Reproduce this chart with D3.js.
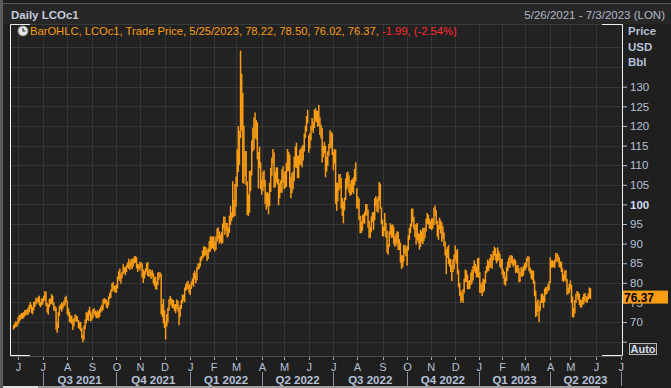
<!DOCTYPE html>
<html>
<head>
<meta charset="utf-8">
<script src="https://cdn.jsdelivr.net/npm/d3@7"></script>
<style>
  body { margin: 0; background: #1f1f1f; }
  svg { display: block; font-family: 'Liberation Sans', Arial, sans-serif; }
</style>
</head>
<body>
<svg width="671" height="388"></svg>
<script>
// daily [low, high] of LCOc1, one entry per trading day
const bars2021 = [
  [68.2,69.1],[68.6,69.6],[68.9,70.1],[69.0,69.9],
  [69.5,71.1],[70.0,71.6],[70.6,71.8],[71.0,72.2],[70.9,72.2],[71.2,72.4],[71.6,72.9],[71.9,73.0],[72.0,73.1],[72.0,73.6],[72.6,74.3],[73.6,75.0],[72.4,74.3],[72.1,73.7],[73.1,75.0],[74.0,75.2],[74.6,76.1],[74.9,75.9],[75.2,76.3],[74.4,76.6],[73.9,75.0],[74.4,75.8],
  [74.6,76.0],[75.4,76.6],[75.7,77.8],[74.2,77.6],[72.6,74.8],[72.0,74.4],[73.9,75.8],[74.6,75.9],[74.8,77.0],[74.5,76.6],[73.1,74.8],[72.9,74.0],[68.2,73.6],[67.4,69.8],[68.6,72.4],[71.7,74.0],[73.4,74.4],[72.8,74.9],[73.5,74.7],[74.1,75.3],[74.4,76.2],[75.2,76.6],
  [72.1,75.3],[71.6,73.4],[70.0,72.5],[70.1,71.6],[69.6,71.5],[68.1,70.6],[69.0,70.9],[70.3,71.9],[70.4,71.6],[70.1,71.3],[68.6,70.4],[68.3,69.9],[67.8,69.9],[66.0,68.4],[65.0,66.6],[65.6,69.0],[68.3,70.5],[69.8,72.4],[70.6,72.3],[70.4,72.9],[71.8,73.8],[70.3,72.6],
  [70.6,71.9],[71.2,73.2],[72.2,73.4],[71.6,72.8],[71.1,72.5],[71.2,72.9],[71.1,72.6],[71.5,73.2],[72.6,73.8],[72.9,74.3],[73.2,75.6],[74.7,76.0],[74.9,75.8],[73.9,75.6],[73.6,75.1],[74.4,76.4],[76.0,77.4],[76.3,78.2],[77.8,79.8],[78.3,80.1],[77.9,79.2],[77.6,79.1],
  [77.6,79.5],[78.7,81.5],[81.0,82.8],[80.6,83.5],[79.9,82.2],[81.3,82.7],[82.3,84.6],[82.7,83.9],[82.1,83.9],[82.9,84.4],[84.0,85.1],[83.7,86.0],[83.4,85.2],[84.1,85.9],[83.6,86.1],[84.3,86.0],[85.1,86.6],[85.3,86.7],[83.8,86.4],[82.9,84.7],[83.7,84.6],
  [83.3,85.2],[84.1,85.1],[81.5,84.8],[80.1,83.3],[81.2,82.9],[82.2,83.6],[83.0,84.9],[81.9,85.2],[81.6,83.0],[81.9,83.4],[81.1,82.8],[81.6,83.2],[79.9,82.4],[79.3,81.3],[78.5,81.5],[78.4,80.2],[79.5,82.5],[81.0,82.6],[81.6,82.6],[72.1,82.2],[71.5,74.5],[69.8,75.8],
  [68.6,72.9],[65.7,70.0],[69.0,71.9],[70.0,73.5],[73.0,75.7],[74.8,76.5],[74.2,76.0],[73.7,75.6],[73.6,75.5],[72.9,74.4],[72.4,74.5],[73.5,75.6],[72.8,75.3],[69.3,73.6],[71.4,74.2],[73.5,75.5],[74.9,76.9],[75.6,76.8],[75.2,78.7],[78.1,79.5],[78.4,80.1],[78.5,80.4],[77.5,79.6]
];
const bars2022 = [
  [77.0,79.2],[78.6,80.2],[79.6,81.0],[79.1,82.4],[81.0,83.0],[80.0,82.3],[80.8,83.9],[83.4,84.8],[83.7,85.0],[84.3,86.4],[85.7,86.7],[86.3,88.1],[86.7,89.2],[87.1,89.1],[87.1,89.0],[85.7,88.3],[86.2,88.6],[87.9,90.5],[88.1,91.7],[88.8,91.7],[89.0,91.7],
  [88.6,91.7],[88.1,90.4],[88.5,91.7],[90.6,93.7],[91.3,94.0],[90.1,93.0],[90.5,92.2],[90.0,92.8],[90.3,95.0],[94.0,96.8],[92.4,96.7],[93.3,95.2],[91.7,95.1],[92.0,93.8],[92.9,97.0],[94.9,99.5],[95.9,97.8],[96.7,105.8],[97.0,101.0],[97.2,105.1],
  [99.5,107.0],[104.6,113.9],[108.4,119.8],[110.2,118.6],[117.0,139.1],[119.0,133.2],[105.6,128.3],[105.4,119.9],[107.3,113.4],[105.0,113.5],[97.4,105.7],[97.2,102.4],[98.0,108.4],[103.5,108.5],[107.5,116.2],[113.6,119.5],[114.1,122.0],[117.0,123.3],[116.7,121.4],[111.6,120.8],[104.2,113.2],[109.4,114.6],[104.0,110.6],
  [102.6,106.2],[103.5,108.1],[104.6,108.6],[100.2,106.1],[98.8,102.9],[99.6,103.0],[97.6,102.6],[99.7,105.4],[103.3,109.2],[107.4,111.8],[110.5,114.0],[104.3,113.1],[104.5,108.2],[105.8,109.3],[105.2,109.3],[99.9,106.4],[101.7,105.2],[103.1,106.0],[103.1,108.8],[105.6,109.6],
  [104.0,108.0],[104.3,108.4],[104.6,110.5],[108.5,114.0],[108.6,113.3],[104.4,112.6],[101.7,106.8],[103.0,107.9],[104.0,108.3],[106.0,112.1],[109.6,114.6],[109.4,115.6],[106.8,112.3],[106.8,112.3],[110.1,113.8],[110.2,114.1],[109.6,114.7],[111.3,115.1],[113.6,117.9],[117.1,119.9],[118.7,122.4],[120.8,124.0],
  [113.3,117.5],[114.4,118.1],[116.5,119.9],[119.0,121.9],[118.3,121.0],[119.6,124.0],[121.3,124.4],[121.0,123.8],[119.9,123.7],[120.1,125.2],[117.8,122.1],[116.9,120.2],[110.8,119.4],[112.1,114.8],[113.1,115.8],[107.0,114.8],[108.5,112.0],[110.0,113.4],[112.5,115.3],[114.4,118.8],[114.7,118.4],[112.7,118.0],
  [108.8,113.3],[110.5,114.0],[100.3,113.8],[98.5,105.4],[100.9,105.3],[103.7,107.6],[104.3,107.6],[99.1,106.6],[97.2,101.5],[95.3,100.6],[98.6,101.6],[101.2,106.5],[103.9,108.0],[104.6,108.2],[103.1,107.3],[102.3,105.0],[102.6,106.0],[103.3,106.3],[102.8,106.8],[105.0,108.9],[106.0,110.6],
  [99.1,104.0],[99.1,101.9],[96.2,101.3],[92.8,97.0],[92.8,95.5],[93.4,97.1],[95.3,97.4],[95.2,98.0],[97.3,100.0],[97.3,99.9],[94.2,98.6],[91.5,95.7],[91.6,94.2],[93.0,96.8],[95.6,97.9],[93.6,97.9],[96.1,101.5],[99.6,102.0],[98.3,101.2],[98.0,101.8],[101.0,105.6],[99.0,105.2],[95.1,99.1],
  [92.0,96.0],[92.0,94.2],[93.4,97.7],[91.7,95.2],[87.8,93.2],[87.3,89.8],[89.3,93.0],[92.4,95.1],[91.6,94.6],[91.7,94.8],[90.0,94.2],[89.3,91.7],[89.6,92.4],[90.2,93.0],[88.5,92.9],[88.5,91.0],[85.3,90.1],[83.7,86.9],[84.1,86.9],[85.5,89.5],[87.6,89.5],[86.9,88.8],
  [84.5,89.3],[88.4,92.0],[91.1,93.9],[92.8,95.0],[94.4,98.8],[95.7,98.8],[93.8,96.7],[91.8,94.6],[89.9,94.9],[91.0,95.1],[90.3,92.5],[88.6,92.4],[89.3,93.4],[90.5,93.0],[90.0,93.9],[90.8,93.8],[91.6,94.0],[93.2,96.3],[95.1,97.7],[95.0,97.2],[93.9,96.2],
  [93.9,95.6],[93.6,96.3],[94.0,96.4],[94.9,99.0],[97.2,99.6],[95.0,98.4],[91.9,95.7],[91.1,94.6],[93.8,96.5],[92.7,95.8],[90.6,95.3],[91.3,94.3],[89.4,92.7],[87.1,90.4],[82.3,88.4],[86.5,89.0],[84.9,89.5],[84.3,86.1],[82.9,85.9],[80.6,84.4],[82.8,85.8],[83.6,87.1],
  [85.9,89.4],[85.0,88.1],[82.3,88.5],[79.0,83.2],[76.8,79.9],[75.1,77.9],[75.6,77.4],[75.0,78.3],[77.5,81.0],[80.3,83.3],[80.4,83.0],[78.5,82.0],[78.5,80.3],[78.6,80.6],[79.6,82.5],[80.0,83.3],[80.8,84.2],[83.1,85.6],[82.6,84.7],[81.5,84.1],[81.6,86.1]
];
const bars2023 = [
  [81.4,86.3],[77.6,82.6],[77.6,79.6],[76.8,80.0],[77.6,81.0],[78.0,80.7],[80.0,82.9],[82.6,84.2],[83.0,85.8],[83.2,85.4],[83.9,86.2],[84.2,87.2],[83.7,86.9],[85.8,88.0],[87.0,89.1],[85.9,88.7],[85.1,87.3],[85.7,88.9],[85.9,88.0],[84.2,87.3],[83.8,85.9],
  [82.2,86.0],[81.3,83.3],[79.7,82.7],[79.4,81.3],[80.6,83.9],[83.1,85.3],[84.0,86.3],[84.0,86.9],[85.2,86.9],[84.8,86.8],[84.2,85.8],[84.7,86.1],[82.6,85.6],[82.8,84.3],[82.6,84.4],[80.3,83.6],[80.4,82.6],[81.9,83.9],[81.6,83.5],[82.0,84.2],
  [83.2,84.9],[83.5,85.2],[84.1,86.2],[85.6,86.7],[83.1,86.5],[82.5,83.8],[81.2,83.2],[80.8,83.0],[79.9,83.0],[76.7,80.4],[71.4,77.9],[71.7,75.1],[72.7,75.6],[70.1,74.1],[73.0,75.4],[75.0,77.0],[75.0,77.2],[73.8,76.6],[75.2,78.4],[77.1,78.8],[77.3,78.8],[77.9,79.5],[78.3,80.2],
  [80.1,86.4],[84.0,85.6],[84.0,85.6],[84.3,85.4],[83.9,85.8],[85.4,87.5],[85.8,87.5],[85.3,87.0],[84.2,86.4],[83.9,85.3],[82.9,85.3],[80.6,83.6],[80.4,82.0],[80.9,83.0],[80.5,83.1],[77.1,80.9],[77.2,78.6],[77.6,79.6],
  [78.5,80.5],[75.0,79.4],[71.4,76.4],[71.3,73.5],[72.3,75.5],[75.0,77.1],[76.6,77.8],[75.7,77.5],[74.5,77.1],[73.9,75.6],[73.8,75.5],[74.6,76.3],[74.6,77.1],[75.5,77.3],[75.2,76.6],[75.0,76.3],[75.8,77.2],[76.2,78.7],[76.02,78.5]
];

// months shown on the axis, May 2021 .. Jul 2023, with their trading-day counts
const monthLetters = ['M','J','J','A','S','O','N','D','J','F','M','A','M','J','J','A','S','O','N','D','J','F','M','A','M','J','J'];
const monthTradingDays = [4,22,22,22,22,21,22,23,21,20,23,20,22,22,21,23,22,21,22,21,21,20,23,18,23,22,1];
const quarterLabels = ['Q3 2021','Q4 2021','Q1 2022','Q2 2022','Q3 2022','Q4 2022','Q1 2023','Q2 2023'];
const yTickValues = [65,70,75,80,85,90,95,100,105,110,115,120,125,130];
const yLabelValues = [70,75,80,85,90,95,100,105,110,115,120,125,130];
const yGridValues = [65,70,75,80,85,90,95,100,105,110,115,120,125,130,135,140];
const lastClose = 76.37;
const legendMain = 'BarOHLC, LCOc1, Trade Price, 5/25/2023, 78.22, 78.50, 76.02, 76.37, ';
const legendChange = '-1.99, (-2.54%)';

const orange = '#f89c14';
const axisText = '#b4c0d6';

const bars = bars2021.concat(bars2022, bars2023);
let acc = 0;
const monthStarts = monthTradingDays.map(n => { const s = acc; acc += n; return s; });

const plot = { left: 10, right: 622, top: 24, bottom: 356 };
const svg = d3.select('svg');

const x = d3.scaleLinear().domain([0, 544]).range([13.6, 621.8]);
const y = d3.scaleLinear().domain([65, 130]).range([341.7, 86.7]);

// backgrounds
svg.append('rect').attr('width', 671).attr('height', 388).attr('fill', '#1f1f1f');
svg.append('rect').attr('x', 3).attr('y', 4).attr('width', 668).attr('height', 20).attr('fill', '#272727');
svg.append('rect').attr('x', plot.left).attr('y', plot.top)
   .attr('width', plot.right - plot.left).attr('height', plot.bottom - plot.top)
   .attr('fill', '#222222');
svg.append('rect').attr('x', 0).attr('y', 0).attr('width', 3).attr('height', 388).attr('fill', '#5c5c5c');
svg.append('line').attr('x1', 3).attr('x2', 671).attr('y1', 3.5).attr('y2', 3.5).attr('stroke', '#555');

// grid
const grid = svg.append('g').attr('stroke', '#363636').attr('stroke-width', 1);
grid.selectAll('.hg').data(yGridValues).join('line')
    .attr('x1', plot.left).attr('x2', plot.right)
    .attr('y1', d => Math.round(y(d)) + 0.5).attr('y2', d => Math.round(y(d)) + 0.5);
grid.selectAll('.vg').data(monthStarts.slice(1, 26)).join('line')
    .attr('x1', d => Math.round(x(d)) + 0.5).attr('x2', d => Math.round(x(d)) + 0.5)
    .attr('y1', plot.top).attr('y2', plot.bottom);

// price bars
svg.append('g').selectAll('line').data(bars).join('line')
   .attr('x1', (d, i) => x(i)).attr('x2', (d, i) => x(i))
   .attr('y1', d => y(d[0]) + 0.5).attr('y2', d => y(d[1]) - 0.5)
   .attr('stroke', orange).attr('stroke-width', 1.5);

// frame
svg.append('line').attr('x1', plot.left).attr('x2', plot.right).attr('y1', plot.bottom + 0.5).attr('y2', plot.bottom + 0.5).attr('stroke', '#4e4e4e');
svg.append('line').attr('x1', plot.left).attr('x2', plot.right).attr('y1', plot.top + 0.5).attr('y2', plot.top + 0.5).attr('stroke', '#3a3a3a');
const frame = svg.append('g').attr('stroke', '#f0f0f0').attr('stroke-width', 1).attr('fill', 'none');
frame.append('path').attr('d', `M${plot.left + 20},${plot.top + 0.5}H${plot.left + 0.5}V${plot.bottom - 0.5}H${plot.left + 20}`);
frame.append('path').attr('d', `M${plot.right - 20},${plot.top + 0.5}H${plot.right + 0.5}V${plot.bottom - 0.5}H${plot.right - 20}`);

// right axis
const yAxis = d3.axisRight(y).tickValues(yTickValues).tickSize(4).tickPadding(3)
                .tickFormat(d => yLabelValues.includes(d) ? d : '');
const yAxisG = svg.append('g').attr('transform', `translate(${plot.right + 1},0)`).call(yAxis);
yAxisG.select('.domain').remove();
yAxisG.selectAll('line').attr('stroke', axisText);
yAxisG.selectAll('text').attr('font-size', 11.5)
      .attr('font-weight', d => d === 100 ? 'bold' : 'normal')
      .attr('fill', d => d === 100 ? '#d0dcf0' : axisText);

svg.append('g').attr('fill', axisText).attr('font-weight', 'bold').attr('font-size', 11.5)
   .selectAll('text').data(['Price', 'USD', 'Bbl']).join('text')
   .attr('x', 628).attr('y', (d, i) => 35 + i * 15.5).text(d => d);

// last price tag
svg.append('rect').attr('x', plot.right + 1).attr('y', y(lastClose) - 6.5).attr('width', 45).attr('height', 13).attr('fill', orange);
svg.append('text').attr('x', plot.right + 2).attr('y', y(lastClose) + 4.5)
   .attr('font-size', 12).attr('font-weight', 'bold').attr('fill', '#000').text(lastClose.toFixed(2));

// Auto button
svg.append('rect').attr('x', 629.5).attr('y', 343.5).attr('width', 27).attr('height', 11)
   .attr('fill', '#2a2a2a').attr('stroke', '#b8b8b8');
svg.append('text').attr('x', 643).attr('y', 353).attr('text-anchor', 'middle')
   .attr('font-size', 11).attr('font-weight', 'bold').attr('fill', '#d4dcea').text('Auto');

// bottom axis: month letters
const xAxisG = svg.append('g');
const monthIdx = d3.range(1, monthLetters.length);
xAxisG.selectAll('.mt').data(monthIdx).join('line')
      .attr('x1', i => Math.round(x(monthStarts[i])) + 0.5).attr('x2', i => Math.round(x(monthStarts[i])) + 0.5)
      .attr('y1', plot.bottom + 1).attr('y2', plot.bottom + 4).attr('stroke', '#9aa6bc');
xAxisG.selectAll('.ml').data(monthIdx).join('text')
      .attr('x', i => x(monthStarts[i]) + 0.5).attr('y', 371).attr('text-anchor', 'middle')
      .attr('font-size', 11).attr('fill', axisText).text(i => monthLetters[i]);

// quarters
const qStarts = quarterLabels.map((q, k) => monthStarts[2 + 3 * k]).concat([monthStarts[26]]);
xAxisG.selectAll('.qs').data(qStarts).join('line')
      .attr('x1', d => Math.round(x(d)) + 0.5).attr('x2', d => Math.round(x(d)) + 0.5)
      .attr('y1', 372).attr('y2', 386).attr('stroke', '#8a93a3');
xAxisG.selectAll('.ql').data(quarterLabels).join('text')
      .attr('x', (d, k) => (x(qStarts[k]) + x(qStarts[k + 1])) / 2).attr('y', 384)
      .attr('text-anchor', 'middle').attr('font-size', 11.5).attr('font-weight', 'bold')
      .attr('fill', axisText).text(d => d);

// scroll bar strip
svg.append('rect').attr('x', 3).attr('y', 386).attr('width', 597).attr('height', 2).attr('fill', '#a0a0a0');
svg.append('rect').attr('x', 3).attr('y', 386).attr('width', 35).attr('height', 2).attr('fill', '#e0e0e0');

// titles
svg.append('text').attr('x', 11).attr('y', 19).attr('font-size', 11.5).attr('font-weight', 'bold')
   .attr('fill', '#c4ccdc').text('Daily LCOc1');
svg.append('text').attr('x', 665).attr('y', 19).attr('text-anchor', 'end').attr('font-size', 11.5)
   .attr('fill', '#b0b8c8').text('5/26/2021 - 7/3/2023 (LON)');

// legend
svg.append('circle').attr('cx', 23).attr('cy', 31).attr('r', 5).attr('fill', '#e6e6e6').attr('stroke', '#8a8a8a');
svg.append('path').attr('d', 'M23,28V31H25.5').attr('stroke', '#333').attr('fill', 'none').attr('stroke-width', 1.2);
const legend = svg.append('text').attr('x', 30).attr('y', 35).attr('font-size', 11.2);
legend.append('tspan').attr('fill', orange).text(legendMain);
legend.append('tspan').attr('fill', '#ff2a2a').text(legendChange);
</script>
</body>
</html>
